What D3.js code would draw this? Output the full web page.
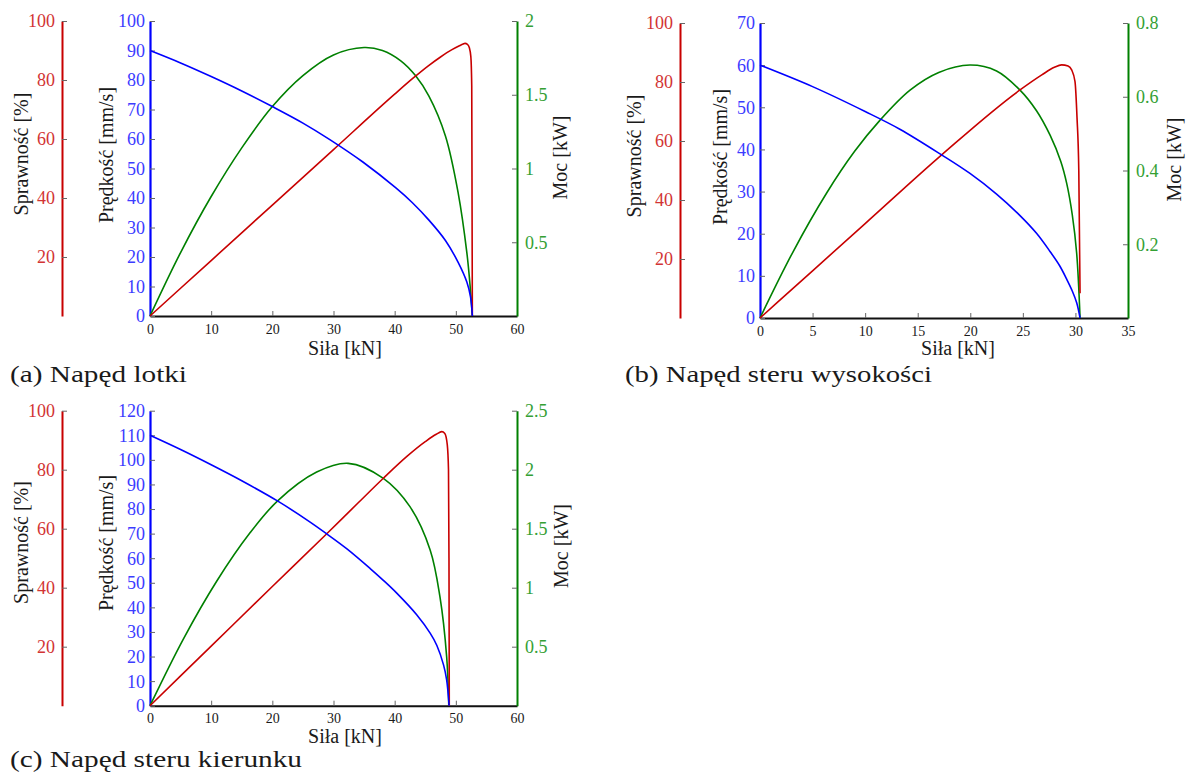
<!DOCTYPE html>
<html>
<head>
<meta charset="utf-8">
<script src="https://cdn.jsdelivr.net/npm/d3@7"></script>
<style>
  html, body { margin: 0; padding: 0; background: #fff; }
  svg { display: block; }
  .serif, .serif text { font-family: "Liberation Serif", "DejaVu Serif", serif; }
</style>
</head>
<body>
<svg id="fig" width="1186" height="773"></svg>
<script>
// ---- Napęd lotki (a) ----
const lotkiSpeedF = [0, 5, 10, 15, 20, 25, 29.4, 34.8, 40.2, 42.9, 45.6, 48.3, 50.4, 51.8, 52.4, 52.7];
const lotkiSpeed  = [90, 85.8, 81.2, 76.3, 71, 65.4, 59.8, 52.2, 43.4, 38.4, 32.5, 25.6, 18.1, 11.5, 6.5, 0];
const lotkiPowerF = [0, 5, 10, 15, 20, 25, 30, 35, 38, 41, 43.4, 45.6, 48.3, 50.4, 51.8, 52.3, 52.7];
const lotkiPower  = [0, 0.43, 0.81, 1.14, 1.42, 1.63, 1.77, 1.82, 1.80, 1.73, 1.63, 1.49, 1.22, 0.83, 0.43, 0.22, 0];
const lotkiEffF   = [0, 10, 20, 30, 40, 43, 45.5, 47.5, 49.3, 50.5, 51.2, 51.5, 51.9, 52.2, 52.45, 52.6, 52.65, 52.7];
const lotkiEff    = [0, 18.8, 37.6, 56.4, 75.2, 80.6, 84.8, 87.8, 90.2, 91.5, 92.2, 92.4, 92.1, 91.0, 88.0, 78, 40, 0];
const lotkiForceTicks = [0, 10, 20, 30, 40, 50, 60];
const lotkiSpeedTicks = [0, 10, 20, 30, 40, 50, 60, 70, 80, 90, 100];
const lotkiPowerTicks = [0.5, 1, 1.5, 2];

// ---- Napęd steru wysokości (b) ----
const wysSpeedF = [0, 5, 10, 13.3, 17.28, 19.97, 22.5, 24.73, 26.3, 27.58, 28.5, 29.17, 29.7, 30.12, 30.44];
const wysSpeed  = [60, 54.9, 49.0, 44.8, 38.7, 34.3, 29.4, 24.3, 20.1, 15.8, 12.4, 9.2, 6.4, 3.6, 0];
const wysPowerF = [0, 3.17, 6.34, 9, 11.4, 14.27, 17, 19.97, 22.5, 24.73, 26.3, 27.6, 28.6, 29.17, 29.7, 30.12, 30.44];
const wysPower  = [0, 0.181, 0.339, 0.452, 0.536, 0.618, 0.666, 0.686, 0.67, 0.618, 0.562, 0.495, 0.425, 0.365, 0.28, 0.175, 0];
const wysEffF   = [0, 5, 10, 17.28, 24.73, 26.8, 28.0, 28.69, 29.3, 29.64, 29.96, 30.15, 30.32, 30.44];
const wysEff    = [0, 16.0, 32.0, 55.3, 77.3, 82.4, 85.0, 85.8, 85.4, 84.1, 80.1, 68, 50, 8.4];
const wysForceTicks = [0, 5, 10, 15, 20, 25, 30, 35];
const wysSpeedTicks = [0, 10, 20, 30, 40, 50, 60, 70];
const wysPowerTicks = [0.2, 0.4, 0.6, 0.8];

// ---- Napęd steru kierunku (c) ----
const kierSpeedF = [0, 5, 10, 15, 20.9, 26, 28.9, 32.2, 36, 38.15, 40.3, 43.6, 45.8, 46.9, 48.0, 48.5, 48.9];
const kierSpeed  = [110, 104.2, 98.0, 91.5, 83.2, 75.0, 69.9, 63.8, 55.8, 51.0, 45.9, 37.0, 29.5, 24.5, 16.5, 10.5, 0];
const kierPowerF = [0, 5.45, 10.9, 16.35, 20.87, 27.25, 32.4, 38.15, 42.5, 45.8, 47.4, 48.5, 48.85];
const kierPower  = [0, 0.565, 1.055, 1.465, 1.736, 1.98, 2.054, 1.927, 1.687, 1.32, 0.924, 0.415, 0];
const kierEffF   = [0, 10, 20, 28.9, 34, 38.15, 42, 45, 46.8, 47.7, 48.2, 48.6, 48.8, 48.88, 48.93];
const kierEff    = [0, 20.2, 40.4, 58.3, 68.7, 77.1, 84.5, 89.5, 92.0, 92.9, 92.3, 88.5, 80, 50, 0];
const kierForceTicks = [0, 10, 20, 30, 40, 50, 60];
const kierSpeedTicks = [0, 10, 20, 30, 40, 50, 60, 70, 80, 90, 100, 110, 120];
const kierPowerTicks = [0.5, 1, 1.5, 2, 2.5];

// shared efficiency axis ticks
const effTicks = [20, 40, 60, 80, 100];

const labels = {
  eff: "Sprawność [%]",
  speed: "Prędkość [mm/s]",
  power: "Moc [kW]",
  force: "Siła [kN]"
};

const C = {
  eff: "#c80000", effText: "#d23434",
  speed: "#0000ff", speedText: "#3c3cff",
  power: "#008000", powerText: "#34a034",
  tick: "#666", ink: "#1a1a1a"
};

const svg = d3.select("#fig");
const numFmt = d3.format("~g");

const panels = [
  {
    caption: "(a) Napęd lotki", capX: 10, capY: 381.5, capLen: 177,
    left: 150, right: 517, top: 21, bottom: 316, effX: 62,
    xMax: 60, vMax: 100, pMax: 2,
    forceTicks: lotkiForceTicks, speedTicks: lotkiSpeedTicks, powerTicks: lotkiPowerTicks,
    speed: d3.zip(lotkiSpeedF, lotkiSpeed), power: d3.zip(lotkiPowerF, lotkiPower), eff: d3.zip(lotkiEffF, lotkiEff),
    effTitle: [27.5, 154], speedTitle: [112.5, 155], powerTitle: [567, 157.5], forceTitle: [345, 355], tickBase: 334
  },
  {
    caption: "(b) Napęd steru wysokości", capX: 625, capY: 381.5, capLen: 307,
    left: 760, right: 1128, top: 23, bottom: 318, effX: 680,
    xMax: 35, vMax: 70, pMax: 0.8,
    forceTicks: wysForceTicks, speedTicks: wysSpeedTicks, powerTicks: wysPowerTicks,
    speed: d3.zip(wysSpeedF, wysSpeed), power: d3.zip(wysPowerF, wysPower), eff: d3.zip(wysEffF, wysEff),
    effTitle: [641, 156], speedTitle: [726.5, 157], powerTitle: [1181, 159.5], forceTitle: [958, 355], tickBase: 336
  },
  {
    caption: "(c) Napęd steru kierunku", capX: 10, capY: 767, capLen: 292,
    left: 150, right: 517, top: 410.7, bottom: 705.7, effX: 62,
    xMax: 60, vMax: 120, pMax: 2.5,
    forceTicks: kierForceTicks, speedTicks: kierSpeedTicks, powerTicks: kierPowerTicks,
    speed: d3.zip(kierSpeedF, kierSpeed), power: d3.zip(kierPowerF, kierPower), eff: d3.zip(kierEffF, kierEff),
    effTitle: [27.5, 542.5], speedTitle: [112.5, 543], powerTitle: [567.5, 546], forceTitle: [345, 743], tickBase: 723
  }
];

function styleAxis(g, lineColor, lineWidth, textColor, fontSize) {
  g.attr("font-family", null).attr("class", "serif").attr("font-size", fontSize);
  g.select(".domain").attr("stroke", lineColor).attr("stroke-width", lineWidth);
  g.selectAll(".tick line").attr("stroke", C.tick).attr("stroke-width", 1);
  g.selectAll(".tick text").attr("fill", textColor);
}

function drawPanel(p) {
  const x = d3.scaleLinear().domain([0, p.xMax]).range([p.left, p.right]);
  const yV = d3.scaleLinear().domain([0, p.vMax]).range([p.bottom, p.top]);
  const yE = d3.scaleLinear().domain([0, 100]).range([p.bottom, p.top]);
  const yP = d3.scaleLinear().domain([0, p.pMax]).range([p.bottom, p.top]);
  const g = svg.append("g");

  // efficiency axis, standing apart on the left
  const gE = g.append("g").attr("transform", `translate(${p.effX},0)`)
    .call(d3.axisLeft(yE).tickValues(effTicks).tickFormat(numFmt)
      .tickSizeInner(-5).tickSizeOuter(0).tickPadding(7));
  styleAxis(gE, C.eff, 2, C.effText, 18);
  gE.selectAll(".tick text").attr("dy", "0.33em");

  // force axis along the bottom
  const gX = g.append("g").attr("transform", `translate(0,${p.bottom})`)
    .call(d3.axisBottom(x).tickValues(p.forceTicks).tickFormat(numFmt)
      .tickSizeInner(-5).tickSizeOuter(0).tickPadding(0));
  styleAxis(gX, "#111", 2, C.ink, 14);
  gX.selectAll(".tick text").attr("dy", null).attr("y", p.tickBase - p.bottom);

  // power axis on the right
  const gP = g.append("g").attr("transform", `translate(${p.right},0)`)
    .call(d3.axisRight(yP).tickValues(p.powerTicks).tickFormat(numFmt)
      .tickSizeInner(-5).tickSizeOuter(0).tickPadding(8));
  styleAxis(gP, C.power, 2, C.powerText, 18);
  gP.selectAll(".tick text").attr("dy", "0.33em");

  // speed axis on the left of the plot
  const gV = g.append("g").attr("transform", `translate(${p.left},0)`)
    .call(d3.axisLeft(yV).tickValues(p.speedTicks).tickFormat(numFmt)
      .tickSizeInner(-5).tickSizeOuter(0).tickPadding(5));
  styleAxis(gV, C.speed, 2.2, C.speedText, 18);
  gV.selectAll(".tick text").attr("dy", "0.33em");

  // curves
  const smooth = d3.curveCatmullRom.alpha(0.5);
  const curve = (ys, data, color, kind) => g.append("path")
    .datum(data)
    .attr("fill", "none")
    .attr("stroke", color)
    .attr("stroke-width", 1.6)
    .attr("stroke-linejoin", "round")
    .attr("d", d3.line().x(d => x(d[0])).y(d => ys(d[1])).curve(kind));
  curve(yP, p.power, C.power, smooth);
  curve(yE, p.eff, C.eff, d3.curveMonotoneX);
  curve(yV, p.speed, C.speed, smooth);

  // axis titles
  const vTitle = (pos, text) => g.append("text")
    .attr("class", "serif")
    .attr("transform", `translate(${pos[0]},${pos[1]}) rotate(-90)`)
    .attr("text-anchor", "middle")
    .attr("font-size", 20).attr("fill", C.ink)
    .text(text);
  vTitle(p.effTitle, labels.eff);
  vTitle(p.speedTitle, labels.speed);
  vTitle(p.powerTitle, labels.power);

  g.append("text")
    .attr("class", "serif")
    .attr("x", p.forceTitle[0]).attr("y", p.forceTitle[1])
    .attr("text-anchor", "middle")
    .attr("font-size", 20).attr("fill", C.ink)
    .text(labels.force);

  // sub-figure caption
  g.append("text")
    .attr("class", "serif")
    .attr("x", p.capX).attr("y", p.capY)
    .attr("font-size", 24)
    .attr("fill", C.ink)
    .attr("textLength", p.capLen).attr("lengthAdjust", "spacingAndGlyphs")
    .text(p.caption);
}

panels.forEach(drawPanel);
</script>
</body>
</html>
